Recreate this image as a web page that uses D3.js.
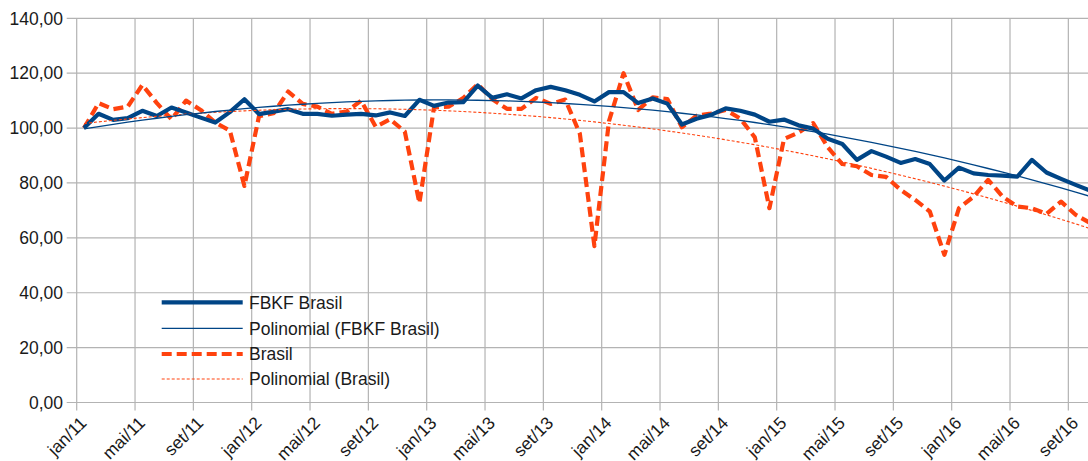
<!DOCTYPE html>
<html>
<head>
<meta charset="utf-8">
<script src="https://cdn.jsdelivr.net/npm/d3@7"></script>
<style>
  body { margin: 0; background: #fff; }
  text { font-family: "Liberation Sans", Arial, sans-serif; fill: #1a1a1a; }
</style>
</head>
<body>
<div id="chart"></div>
<script>
// monthly index, jan/11 = 100

var monthAbbr = ["jan","fev","mar","abr","mai","jun","jul","ago","set","out","nov","dez"];
var years = ["11","12","13","14","15","16"];

var fbkf = [
  100.0, 105.2, 103.0, 103.6, 106.3, 104.4, 107.5, 105.7, 103.8, 102.0, 105.8, 110.5,
  105.1, 106.0, 106.9, 105.2, 105.2, 104.5, 104.9, 105.2, 104.6, 105.7, 104.4, 110.3,
  108.1, 109.3, 109.4, 115.5, 111.0, 112.3, 110.8, 113.8, 115.0, 113.8, 112.1, 109.7,
  113.1, 113.1, 109.1, 110.8, 108.9, 101.3, 103.4, 104.8, 107.2, 106.3, 104.9, 102.3,
  103.1, 101.0, 99.8, 96.1, 94.2, 88.4, 91.6, 89.6, 87.3, 88.7, 86.9, 80.9,
  85.6, 83.5, 82.9, 82.7, 82.3, 88.4, 83.8, 81.5, 79.3, 77.2
];

var brasil = [
  100.0, 109.1, 106.9, 107.8, 115.7, 109.1, 103.2, 110.0, 106.6, 102.0, 99.1, 78.9,
  104.3, 105.4, 113.3, 108.8, 107.8, 105.2, 106.0, 110.0, 100.5, 103.2, 98.7, 72.7,
  107.5, 107.8, 110.9, 116.0, 110.5, 107.0, 107.0, 111.0, 108.8, 110.4, 98.0, 57.0,
  102.5, 120.0, 106.6, 111.2, 110.6, 100.3, 104.5, 105.3, 106.6, 103.5, 96.6, 70.8,
  96.0, 98.4, 101.8, 93.0, 86.9, 86.1, 82.9, 82.2, 77.5, 73.8, 69.6, 53.8,
  70.8, 75.0, 81.1, 75.0, 71.4, 70.8, 68.7, 73.2, 68.4, 65.4
];

var categories = years.flatMap(y => monthAbbr.map(m => m + "/" + y)).slice(0, fbkf.length);
var tickCats = categories.filter((d, i) => i % 4 == 0);
var yTicks = [0, 20, 40, 60, 80, 100, 120, 140];

var legendNames = ["FBKF Brasil", "Polinomial (FBKF Brasil)", "Brasil", "Polinomial (Brasil)"];

var width = 1088, height = 461;
var left = 76.7, step = 14.583;
var blue = "#004586", orange = "#ff420e", grid = "#b3b3b3";

var svg = d3.select("div#chart")
    .append("svg")
    .attr("width", width)
    .attr("height", height);

var x = d3.scaleBand()
    .domain(categories)
    .range([left, left + categories.length * step]);

var y = d3.scaleLinear()
    .domain([0, 140])
    .range([402.5, 18.3]);

var cx = (d) => x(d) + x.bandwidth() / 2;

var br = d3.formatLocale({decimal: ",", thousands: ".", grouping: [3], currency: ["R$", ""]});
var fmt = br.format(".2f");

// least squares fit, degree 2 (like the calc trend line)
function polyFit(vals) {
  var s = [0, 0, 0, 0, 0], t = [0, 0, 0];
  vals.forEach((v, i) => {
    for (var k = 0; k < 5; k++) s[k] += Math.pow(i, k);
    for (var k = 0; k < 3; k++) t[k] += v * Math.pow(i, k);
  });
  var m = [[s[0], s[1], s[2], t[0]],
           [s[1], s[2], s[3], t[1]],
           [s[2], s[3], s[4], t[2]]];
  for (var c = 0; c < 3; c++) {
    for (var r = c + 1; r < 3; r++) {
      var f = m[r][c] / m[c][c];
      for (var k = c; k < 4; k++) m[r][k] -= f * m[c][k];
    }
  }
  var a = [0, 0, 0];
  for (var r = 2; r >= 0; r--) {
    var sum = m[r][3];
    for (var k = r + 1; k < 3; k++) sum -= m[r][k] * a[k];
    a[r] = sum / m[r][r];
  }
  return vals.map((v, i) => a[0] + a[1] * i + a[2] * i * i);
}

// grid
svg.selectAll("line.hgrid")
    .data(yTicks)
    .enter()
    .append("line")
    .attr("x1", left - 10)
    .attr("x2", width)
    .attr("y1", (d) => y(d))
    .attr("y2", (d) => y(d))
    .attr("stroke", grid)
    .attr("stroke-width", 1.2);

svg.selectAll("line.vgrid")
    .data(tickCats)
    .enter()
    .append("line")
    .attr("x1", (d) => x(d))
    .attr("x2", (d) => x(d))
    .attr("y1", y(140))
    .attr("y2", y(0) + 8)
    .attr("stroke", grid)
    .attr("stroke-width", 1.2);

// y labels
svg.selectAll("text.ylab")
    .data(yTicks)
    .enter()
    .append("text")
    .attr("x", 63)
    .attr("y", (d) => y(d) + 6.3)
    .attr("text-anchor", "end")
    .style("font-size", "17.5px")
    .text((d) => fmt(d));

// x labels
svg.selectAll("text.xlab")
    .data(tickCats)
    .enter()
    .append("text")
    .attr("transform", (d) => "translate(" + (x(d) + 11) + ",424) rotate(-45)")
    .attr("text-anchor", "end")
    .style("font-size", "17.5px")
    .text((d) => d);

var line = d3.line()
    .x((d, i) => cx(categories[i]))
    .y((d) => y(d));

var series = [
  {name: legendNames[0], vals: fbkf, color: blue, w: 4.2, dash: null},
  {name: legendNames[1], vals: polyFit(fbkf), color: blue, w: 1.3, dash: null},
  {name: legendNames[2], vals: brasil, color: orange, w: 4.2, dash: "10,5"},
  {name: legendNames[3], vals: polyFit(brasil), color: orange, w: 1.1, dash: "3,2"}
];

var drawOrder = [series[2], series[0], series[3], series[1]];

svg.selectAll("path.series")
    .data(drawOrder)
    .enter()
    .append("path")
    .attr("d", (d) => line(d.vals))
    .attr("fill", "none")
    .attr("stroke", (d) => d.color)
    .attr("stroke-width", (d) => d.w)
    .attr("stroke-dasharray", (d) => d.dash)
    .attr("stroke-linejoin", "round");

// legend
var legendY = [302.3, 328.3, 354, 379];
var lg = svg.selectAll("g.legend")
    .data(series)
    .enter()
    .append("g")
    .attr("transform", (d, i) => "translate(0," + legendY[i] + ")");

lg.append("line")
    .attr("x1", 161.7)
    .attr("x2", 242.7)
    .attr("stroke", (d) => d.color)
    .attr("stroke-width", (d) => d.w)
    .attr("stroke-dasharray", (d) => d.dash);

lg.append("text")
    .attr("x", 249)
    .attr("y", 6.4)
    .style("font-size", "17.5px")
    .text((d) => d.name);
</script>
</body>
</html>
